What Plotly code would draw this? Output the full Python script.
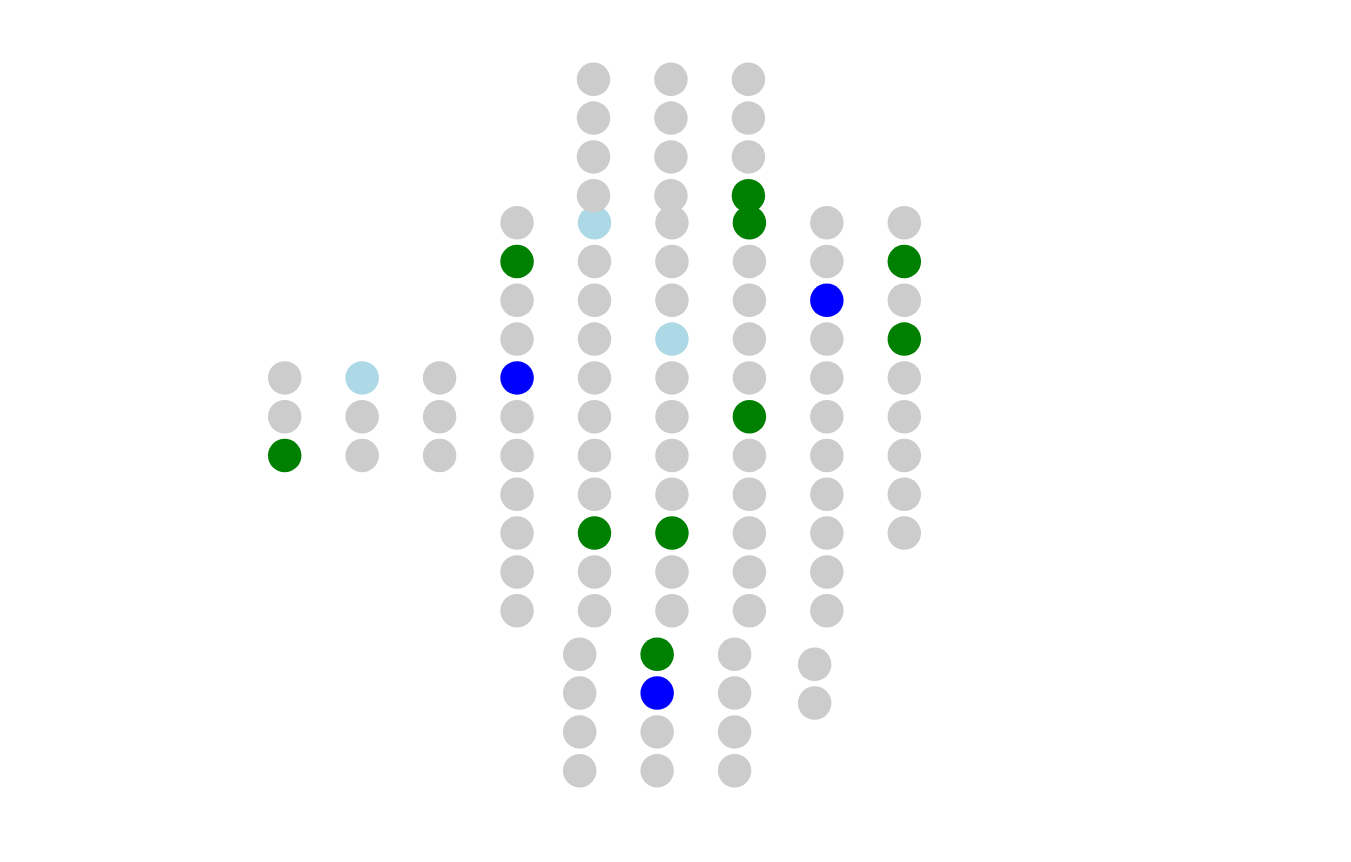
import plotly.graph_objects as go

# ---- data: dot columns (letters = category of each dot, top to bottom) ----
# o = other (grey), L = light blue, B = blue, G = green
main_start_rows = [4, 4, 4, 0, 0, 0, 0, 0, 0]
main_dots = ["ooG", "Loo", "ooo", "oGooBoooooo", "LoooooooGoo",
             "oooLooooGoo", "GooooGooooo", "ooBoooooooo", "oGoGooooo"]

top_cols = [4, 5, 6]
top_dots = ["oooo", "oooo", "oooG"]

bottom_dots = ["oooo", "GBoo", "oooo", "oo"]

CAT_COLORS = {"o": "#cccccc", "L": "#add8e6", "B": "#0000ff", "G": "#008000"}

# ---- layout (pixel grid) ----
W, H = 1351, 862
DX, DY = 77.45, 38.8
MAIN_X0, MAIN_Y0 = 284.7, 222.7
TOP_Y0, TOP_XSHIFT = 79.3, -1.0
BOT_X0, BOT_Y0 = 579.7, 654.3
BOT_EXTRA = {3: (2.6, 10.0)}   # last bottom column nudged
SIZE = 33.5


def add_group(fig, xs, ys, cats):
    fig.add_trace(go.Scatter(
        x=xs, y=ys, mode="markers", hoverinfo="skip",
        marker=dict(size=SIZE, color=[CAT_COLORS[c] for c in cats],
                    line=dict(width=0)),
        showlegend=False))


fig = go.Figure()

# main block
xs, ys, cs = [], [], []
for ci, (start, col) in enumerate(zip(main_start_rows, main_dots)):
    for ri, c in enumerate(col):
        xs.append(MAIN_X0 + ci * DX)
        ys.append(MAIN_Y0 + (start + ri) * DY)
        cs.append(c)
add_group(fig, xs, ys, cs)

# top block
xs, ys, cs = [], [], []
for ci, col in zip(top_cols, top_dots):
    for ri, c in enumerate(col):
        xs.append(MAIN_X0 + ci * DX + TOP_XSHIFT)
        ys.append(TOP_Y0 + ri * DY)
        cs.append(c)
add_group(fig, xs, ys, cs)

# bottom block
xs, ys, cs = [], [], []
for ci, col in enumerate(bottom_dots):
    ex, ey = BOT_EXTRA.get(ci, (0, 0))
    for ri, c in enumerate(col):
        xs.append(BOT_X0 + ci * DX + ex)
        ys.append(BOT_Y0 + ri * DY + ey)
        cs.append(c)
add_group(fig, xs, ys, cs)

fig.update_layout(
    width=W, height=H, margin=dict(l=0, r=0, t=0, b=0),
    paper_bgcolor="white", plot_bgcolor="white",
    xaxis=dict(range=[0, W], visible=False, fixedrange=True),
    yaxis=dict(range=[H, 0], visible=False, fixedrange=True),
)

fig.write_html("out.html")
